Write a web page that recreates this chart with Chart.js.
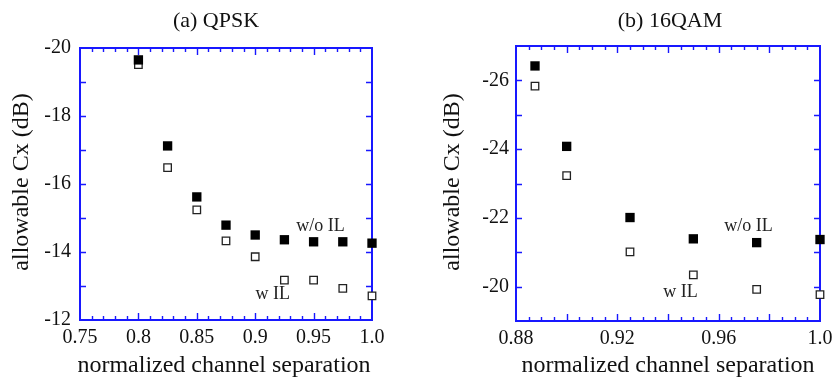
<!DOCTYPE html>
<html>
<head>
<meta charset="utf-8">
<script src="https://cdn.jsdelivr.net/npm/chart.js@4.4.1/dist/chart.umd.min.js"></script>
<style>
html, body { margin: 0; padding: 0; background: #fff; }
#wrap { display: flex; width: 840px; height: 380px; }
canvas { display: block; }
</style>
</head>
<body>
<div id="wrap">
    <canvas id="qpsk" width="420" height="380"></canvas>
    <canvas id="qam" width="420" height="380"></canvas>
</div>
<script>
/* ── (a) QPSK ───────────────────────────────────────────────── */
var qpskSep     = [0.8, 0.825, 0.85, 0.875, 0.9, 0.925, 0.95, 0.975, 1.0];
var qpskNoIL    = [-19.65, -17.12, -15.62, -14.79, -14.50, -14.36, -14.30, -14.30, -14.26];
var qpskWithIL  = [-19.51, -16.48, -15.24, -14.33, -13.86, -13.17, -13.17, -12.93, -12.71];
var qpskXTicks  = [0.75, 0.8, 0.85, 0.9, 0.95, 1.0];
var qpskXLabels = ['0.75', '0.8', '0.85', '0.9', '0.95', '1.0'];
var qpskYTicks  = [-20, -18, -16, -14, -12];

/* ── (b) 16QAM ──────────────────────────────────────────────── */
var qamSep     = [0.8875, 0.9, 0.925, 0.95, 0.975, 1.0];
var qamNoIL    = [-26.42, -24.08, -22.01, -21.39, -21.28, -21.37];
var qamWithIL  = [-25.83, -23.23, -21.01, -20.34, -19.92, -19.77];
var qamXTicks  = [0.88, 0.92, 0.96, 1.0];
var qamXLabels = ['0.88', '0.92', '0.96', '1.0'];
var qamYTicks  = [-26, -24, -22, -20];

var BLUE  = '#1818ff';
var SERIF = "'Liberation Serif', 'DejaVu Serif', serif";

function points(xs, ys) {
    return xs.map(function (x, i) { return { x: x, y: ys[i] }; });
}

/* frame + inward ticks on all four sides */
var framePlugin = {
    id: 'frame',
    beforeDatasetsDraw: function (chart, args, o) {
        var ctx = chart.ctx, a = chart.chartArea;
        var xs = chart.scales.x, ys = chart.scales.y;
        var i, n, v, p, len;
        ctx.save();
        ctx.strokeStyle = BLUE;
        ctx.lineWidth = 1.4;
        ctx.beginPath();
        n = Math.round((xs.max - xs.min) / o.xMinor);
        for (i = 1; i < n; i++) {
            v = xs.min + i * o.xMinor;
            p = Math.round(xs.getPixelForValue(v)) + 0.5;
            len = (i % o.xMajorEvery === 0) ? 7 : 4;
            ctx.moveTo(p, a.bottom); ctx.lineTo(p, a.bottom - len);
            ctx.moveTo(p, a.top);    ctx.lineTo(p, a.top + len);
        }
        n = Math.round((ys.max - ys.min) / o.yMinor);
        for (i = 1; i < n; i++) {
            v = ys.min + i * o.yMinor;
            p = Math.round(ys.getPixelForValue(v)) + 0.5;
            ctx.moveTo(a.left, p);  ctx.lineTo(a.left + 6, p);
            ctx.moveTo(a.right, p); ctx.lineTo(a.right - 6, p);
        }
        ctx.stroke();
        ctx.lineWidth = 2;
        ctx.strokeRect(a.left, a.top, a.right - a.left, a.bottom - a.top);
        ctx.restore();
    }
};

/* title, axis titles and curve labels */
var textPlugin = {
    id: 'texts',
    afterDraw: function (chart, args, o) {
        var ctx = chart.ctx, xs = chart.scales.x, ys = chart.scales.y;
        ctx.save();
        ctx.fillStyle = '#111';
        ctx.textAlign = 'center';
        ctx.textBaseline = 'middle';

        ctx.font = '22px ' + SERIF;
        ctx.fillText(o.title, o.titleX, 21);

        ctx.font = '24px ' + SERIF;
        ctx.fillText('normalized channel separation', o.xTitleX, 366);

        ctx.save();
        ctx.translate(o.yTitleX, 182);
        ctx.rotate(-Math.PI / 2);
        ctx.fillText('allowable Cx (dB)', 0, 0);
        ctx.restore();

        ctx.fillStyle = '#222';
        ctx.font = '18px ' + SERIF;
        o.notes.forEach(function (nt) {
            ctx.fillText(nt.text, xs.getPixelForValue(nt.x), ys.getPixelForValue(nt.y));
        });
        ctx.restore();
    }
};

function makeChart(id, c) {
    return new Chart(document.getElementById(id), {
        type: 'scatter',
        data: {
            datasets: [{
                label: 'w/o IL',
                data: points(c.sep, c.noIL),
                pointStyle: 'rect',
                pointRadius: 6.6,
                backgroundColor: '#000',
                borderWidth: 0,
                clip: false,
            }, {
                label: 'w IL',
                data: points(c.sep, c.withIL),
                pointStyle: 'rect',
                pointRadius: 5.3,
                backgroundColor: '#fff',
                borderColor: '#222',
                borderWidth: 1.3,
                clip: false,
            }],
        },
        options: {
            responsive: false,
            animation: false,
            events: [],
            layout: { padding: { left: 0, top: c.top, right: c.right, bottom: 0 } },
            plugins: {
                legend: { display: false },
                tooltip: { enabled: false },
                frame: { xMinor: c.xMinor, xMajorEvery: c.xMajorEvery, yMinor: 1 },
                texts: c.texts,
            },
            scales: {
                x: {
                    type: 'linear',
                    min: c.xMin, max: 1.0,
                    grid: { display: false, drawTicks: false },
                    border: { display: false },
                    afterBuildTicks: function (s) {
                        s.ticks = c.xTicks.map(function (v) { return { value: v }; });
                    },
                    ticks: {
                        autoSkip: false, maxRotation: 0, padding: 6,
                        color: '#111', font: { family: SERIF, size: 20 },
                        callback: function (v, i) { return c.xLabels[i]; },
                    },
                    afterFit: function (s) {
                        s.height = c.xHeight;
                        s.paddingLeft = 0; s.paddingRight = 0;
                    },
                },
                y: {
                    type: 'linear',
                    reverse: true,
                    min: c.yMin, max: c.yMax,
                    grid: { display: false, drawTicks: false },
                    border: { display: false },
                    afterBuildTicks: function (s) {
                        s.ticks = c.yTicks.map(function (v) { return { value: v }; });
                    },
                    ticks: {
                        padding: c.yPad,
                        color: '#111', font: { family: SERIF, size: 20 },
                    },
                    afterFit: function (s) {
                        s.width = c.yWidth;
                        s.paddingTop = 0; s.paddingBottom = 0;
                    },
                },
            },
        },
        plugins: [framePlugin, textPlugin],
    });
}

makeChart('qpsk', {
    sep: qpskSep, noIL: qpskNoIL, withIL: qpskWithIL,
    xTicks: qpskXTicks, xLabels: qpskXLabels, yTicks: qpskYTicks,
    xMin: 0.75, yMin: -20, yMax: -12,
    xMinor: 0.01, xMajorEvery: 5,
    top: 48, right: 48, yWidth: 80, xHeight: 60, yPad: 9,
    texts: {
        title: '(a) QPSK', titleX: 216, xTitleX: 224, yTitleX: 22,
        notes: [{ text: 'w/o IL', x: 0.956, y: -14.76 }, { text: 'w IL', x: 0.915, y: -12.76 }],
    },
});

makeChart('qam', {
    sep: qamSep, noIL: qamNoIL, withIL: qamWithIL,
    xTicks: qamXTicks, xLabels: qamXLabels, yTicks: qamYTicks,
    xMin: 0.88, yMin: -27, yMax: -19,
    xMinor: 0.005, xMajorEvery: 4,
    top: 46, right: 20, yWidth: 96, xHeight: 59, yPad: 7,
    texts: {
        title: '(b) 16QAM', titleX: 250, xTitleX: 248, yTitleX: 33,
        notes: [{ text: 'w/o IL', x: 0.9718, y: -21.77 }, { text: 'w IL', x: 0.9449, y: -19.83 }],
    },
});
</script>
</body>
</html>
